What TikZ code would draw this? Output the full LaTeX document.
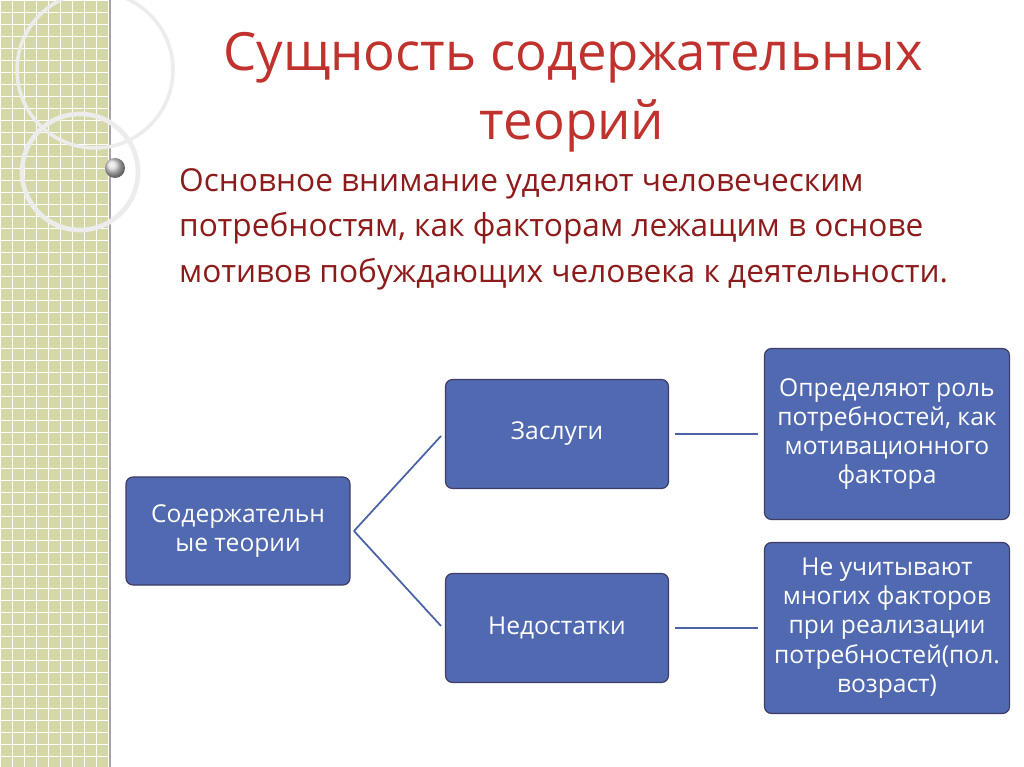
\documentclass[tikz,border=0pt]{standalone}
\usepackage{fontspec}
\setmainfont{Open Sans}
\begin{document}
\begin{tikzpicture}[x=0.03cm,y=-0.03cm,
 box/.style={draw=white!60!blue!40!black, line width=1pt, fill=boxblue, rounded corners=6pt, text=white, align=center, font=\fontsize{21}{25}\selectfont, inner sep=2pt},
 conn/.style={draw=linec, line width=1.5pt}]
\definecolor{boxblue}{HTML}{5069B0}
\definecolor{linec}{HTML}{4A63A6}
\definecolor{strip}{HTML}{D6D7A6}
\definecolor{titlec}{HTML}{C0322E}
\definecolor{bodyc}{HTML}{8E1B1B}
\useasboundingbox (0,0) rectangle (1024,767);
\fill[white] (0,0) rectangle (1024,767);
% left strip
\fill[strip] (0,0) rectangle (110,767);
\foreach \i in {0,12,...,110} \draw[white,line width=0.8pt] (\i,0) -- (\i,767);
\foreach \j in {0,12,...,767} \draw[white,line width=0.8pt] (0,\j) -- (110,\j);
\draw[black!35,line width=1pt] (110,0) -- (110,767);
\draw[white!85!gray,line width=4pt] (80,172) circle (58);
\draw[white!85!gray,line width=3pt] (95,70) circle (78);
\shade[ball color=white!70!gray] (115,168) circle (10);
% title
\node (t1) at (573,58) {\fontsize{45}{50}\selectfont\color{titlec}Сущность содержательных};
\node (t2) at (572,126) {\fontsize{45}{50}\selectfont\color{titlec}теорий};
\node[anchor=north west, align=left, text=bodyc, font=\fontsize{27}{39}\selectfont, inner sep=0pt] (body) at (179,168)
 {Основное внимание уделяют человеческим\\потребностям, как факторам лежащим в основе\\мотивов побуждающих человека к деятельности.};
% boxes
\node[box, minimum width=224*0.03cm, minimum height=108*0.03cm] (a) at (238,531) {Содержательн\\ые теории};
\node[box, minimum width=223*0.03cm, minimum height=109*0.03cm] (b) at (557,434) {Заслуги};
\node[box, minimum width=223*0.03cm, minimum height=109*0.03cm] (c) at (557,628) {Недостатки};
\node[box, minimum width=245*0.03cm, minimum height=171*0.03cm] (d) at (887,434) {Определяют роль\\потребностей, как\\мотивационного\\фактора};
\node[box, minimum width=245*0.03cm, minimum height=171*0.03cm] (e) at (887,628) {Не учитывают\\многих факторов\\при реализации\\потребностей(пол.\\возраст)};
% connectors
\coordinate (as) at (354,531);
\coordinate (bs) at (441,436);
\coordinate (cs) at (441,626);
\draw[conn] (as) -- (bs);
\draw[conn] (as) -- (cs);
\draw[conn] ([xshift=6*0.03cm]b.east) -- ([xshift=-6*0.03cm]b.east -| d.west);
\draw[conn] ([xshift=6*0.03cm]c.east) -- ([xshift=-6*0.03cm]c.east -| e.west);
\end{tikzpicture}
\end{document}
